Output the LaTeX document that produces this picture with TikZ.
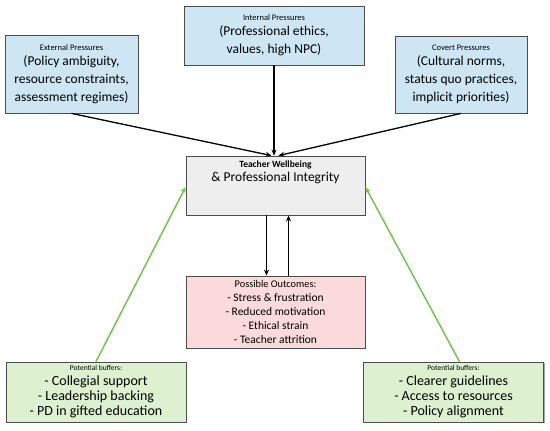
\documentclass[tikz,border=0pt]{standalone}
\usepackage{fontspec}
\setmainfont{Carlito}
\usetikzlibrary{arrows.meta,shadows}
\definecolor{pblue}{RGB}{206,230,243}
\definecolor{pgrey}{RGB}{238,238,238}
\definecolor{ppink}{RGB}{250,218,218}
\definecolor{pgreen}{RGB}{221,241,208}
\definecolor{lgreen}{RGB}{116,194,80}
\newcommand\hdfont{\fontsize{8.5}{10}\selectfont}

\begin{document}
\begin{tikzpicture}[x=1pt,y=-1pt,
  box/.style={draw=black!70,line width=0.8pt,align=center,inner sep=2pt,
    drop shadow={shadow xshift=1.2pt,shadow yshift=-1.2pt,opacity=0.35,fill=black}},
  pr/.style={box,fill=pblue,font=\fontsize{13.5}{18}\selectfont},
  bf/.style={box,fill=pgreen,minimum width=180,minimum height=60,font=\fontsize{14}{15}\selectfont},
  ar/.style={-{Stealth[length=6pt,width=5pt]},line width=1.3pt},
  gr/.style={ar,line width=1.5pt,draw=lgreen,fill=lgreen}]
  \useasboundingbox (0,0) rectangle (550,431);
  % pressures on top
  \node[pr,minimum width=133,minimum height=78] (ext) at (71.5,74)
    {{\hdfont External Pressures}\\[-3pt](Policy ambiguity,\\resource constraints,\\assessment regimes)};
  \node[pr,minimum width=180,minimum height=59] (int) at (274,35.5)
    {{\hdfont Internal Pressures}\\[-3pt](Professional ethics,\\values, high NPC)};
  \node[pr,minimum width=132,minimum height=77] (cov) at (461,74.5)
    {{\hdfont Covert Pressures}\\[-3pt](Cultural norms,\\status quo practices,\\implicit priorities)};
  % centre box, text kept at the top
  \node[box,fill=pgrey,minimum width=179,minimum height=59] (wb) at (275.5,185.5) {};
  \node[anchor=north,align=center,inner sep=1pt,font=\fontsize{13.5}{16}\selectfont] (wbT)
    at ([yshift=-4pt]wb.north) {{\bfseries\fontsize{9.5}{11}\selectfont Teacher Wellbeing}\\[-2pt]\& Professional Integrity};
  \node[box,fill=ppink,minimum width=179,minimum height=72,font=\fontsize{11.5}{14}\selectfont] (out) at (275.5,312)
    {{\fontsize{10.3}{12}\selectfont Possible Outcomes:}\\- Stress \& frustration\\- Reduced motivation\\- Ethical strain\\- Teacher attrition};
  % buffers
  \node[bf] (bufL) at (96,392)
    {{\fontsize{7.5}{9}\selectfont Potential buffers:}\\- Collegial support\\- Leadership backing\\- PD in gifted education};
  \node[bf] (bufR) at (453.5,392)
    {{\fontsize{7.5}{9}\selectfont Potential buffers:}\\- Clearer guidelines\\- Access to resources\\- Policy alignment};
  % connectors
  \draw[ar] (ext.south) -- ([xshift=-4pt]wb.north);
  \draw[ar] (int.south) -- (int.south |- wb.north);
  \draw[ar] (cov.south) -- ([xshift=3pt]wb.north);
  \draw[ar] ([xshift=-9pt]wb.south) -- ([xshift=-9pt]out.north);
  \draw[ar] ([xshift=13pt]out.north) -- ([xshift=13pt]wb.south);
  \draw[gr] (bufL.north) -- ([yshift=-1.5pt]wb.west);
  \draw[gr] ([xshift=6pt]bufR.north) -- ([yshift=-1.5pt]wb.east);
\end{tikzpicture}
\end{document}
